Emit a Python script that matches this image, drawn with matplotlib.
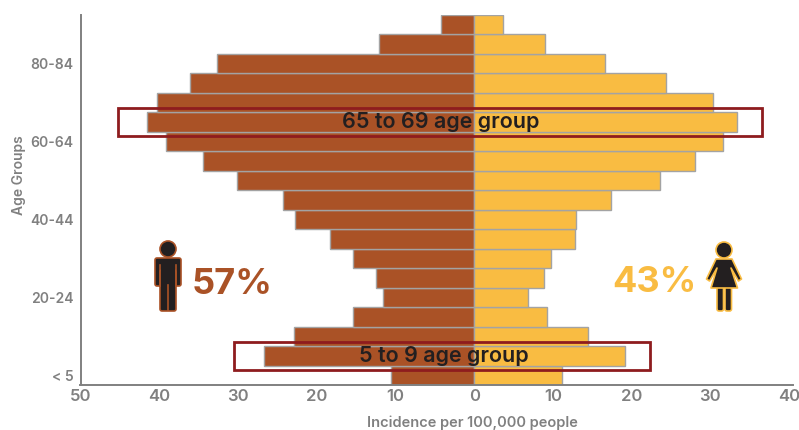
import matplotlib
matplotlib.use('Agg')
import matplotlib.pyplot as plt
from matplotlib.patches import Rectangle, Circle, Polygon, FancyBboxPatch


#values read bottom to top, <5 first
male = [10.5, 26.7, 22.9, 15.4, 11.6, 12.5, 15.4, 18.3, 22.8, 24.3, 30.1, 34.4, 39.2, 41.6, 40.3, 36.1, 32.6, 12.1, 4.2]
female = [11.1, 19.1, 14.4, 9.3, 6.8, 8.9, 9.8, 12.8, 13, 17.4, 23.6, 28, 31.6, 33.4, 30.3, 24.4, 16.6, 9, 3.7]
y_ticks = [0, 4, 8, 12, 16]
y_labels = ['< 5', '20-24', '40-44', '60-64', '80-84']
x_ticks = [-50, -40, -30, -20, -10, 0, 10, 20, 30, 40]
x_labels = ['50', '40', '30', '20', '10', '0', '10', '20', '30', '40']

BROWN = '#AA5226'
YELLOW = '#F9BC42'
EDGE = '#A3A3A3'
RED = '#8E1C1E'
DARK = '#231F20'
GREY = '#808080'

plt.rcParams['font.family'] = ['Inter', 'Open Sans', 'DejaVu Sans']

W, H = 799, 430
fig = plt.figure(figsize=(W / 100, H / 100), dpi=100)
ax = fig.add_axes([80.5 / W, 1 - 385 / H, (793 - 80.5) / W, (385 - 15) / H])

ys = list(range(len(male)))
ax.barh(ys, [-v for v in male], height=1, color=BROWN, edgecolor=EDGE, linewidth=1)
ax.barh(ys, female, height=1, color=YELLOW, edgecolor=EDGE, linewidth=1)

ax.set_xlim(-49.9, 40.5)
ax.set_ylim(-0.5, 18.5)
ax.set_xticks(x_ticks, x_labels, fontsize=12, fontweight='semibold', color=GREY)
ax.set_yticks(y_ticks, y_labels, fontsize=10, fontweight='semibold', color=GREY)
ax.tick_params(axis='both', length=0)
ax.tick_params(axis='x', pad=3)
ax.tick_params(axis='y', pad=5)
ax.spines[['top', 'right']].set_visible(False)
ax.spines[['left', 'bottom']].set_color(GREY)
ax.spines[['left', 'bottom']].set_linewidth(1.4)
ax.set_xlabel('Incidence per 100,000 people', fontsize=10.5, fontweight='semibold', color=GREY)
ax.xaxis.set_label_coords((472 - 80.5) / (793 - 80.5), -0.082)
ax.set_ylabel('Age Groups', fontsize=10, fontweight='semibold', color=GREY)
ax.yaxis.set_label_coords((26 - 80.5) / (793 - 80.5), 0.568)

#highlight boxes
ax.add_patch(Rectangle((-45.2, 12.27), 81.8, 1.46, fill=False, edgecolor=RED, linewidth=2, zorder=5))
ax.add_patch(Rectangle((-30.5, 0.28), 52.8, 1.44, fill=False, edgecolor=RED, linewidth=2, zorder=5))
ax.text(-4.2, 13, '65 to 69 age group', fontsize=15.5, fontweight='semibold', color=DARK, ha='center', va='center', zorder=6)
ax.text(-3.9, 1, '5 to 9 age group', fontsize=15.5, fontweight='semibold', color=DARK, ha='center', va='center', zorder=6)

#overlay in pixels for the icons
ov = fig.add_axes([0, 0, 1, 1], facecolor='none')
ov.set_xlim(0, W)
ov.set_ylim(H, 0)
ov.axis('off')


def rounded(x, y, w, h, edge):
    ov.add_patch(FancyBboxPatch((x + 2, y + 2), w - 4, h - 4, boxstyle='round,pad=2', facecolor=DARK,
                                edgecolor=edge, linewidth=1.2))


#man
ov.add_patch(Circle((168, 249), 8, facecolor=DARK, edgecolor=BROWN, linewidth=1.2))
rounded(155, 258, 26, 28, BROWN)
rounded(160, 270, 16, 41, BROWN)
ov.add_patch(Rectangle((160.8, 266), 14.4, 24, facecolor=DARK, edgecolor='none'))
ov.plot([160, 160], [265, 286], color=BROWN, lw=1.2)
ov.plot([176, 176], [265, 286], color=BROWN, lw=1.2)
ov.plot([168, 168], [285, 310], color=BROWN, lw=1.2)

#woman
for lx in (717, 725):
    rounded(lx, 284, 6.5, 27, YELLOW)
ov.add_patch(Polygon([[716, 259], [732, 259], [741.5, 279], [738.5, 281], [731, 268], [737.5, 288],
                      [711, 288], [717, 268], [709.5, 281], [706.5, 279]], closed=True,
                     facecolor=DARK, edgecolor=YELLOW, linewidth=1.2, joinstyle='round'))
ov.add_patch(Circle((724, 250), 8, facecolor=DARK, edgecolor=YELLOW, linewidth=1.2))

ov.text(192, 285, '57%', fontsize=26, fontweight='bold', color=BROWN, ha='left', va='center')
ov.text(697, 283, '43%', fontsize=26, fontweight='bold', color=YELLOW, ha='right', va='center')

fig.savefig('out.png', dpi=100)
